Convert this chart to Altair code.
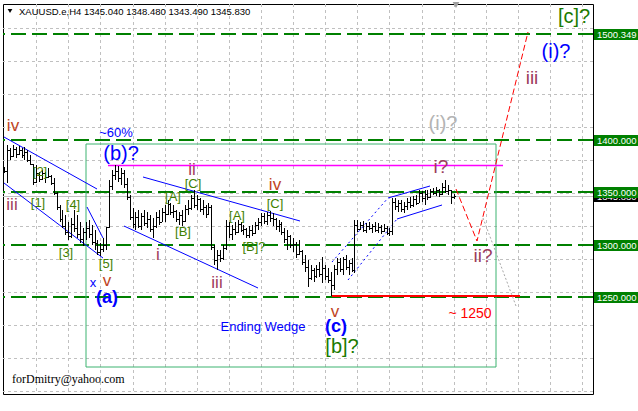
import altair as alt
import pandas as pd

# ---------------- XAUUSD.e, H4 bars ----------------
highs = [1373.9, 1394.8, 1392.0, 1394.8, 1392.9, 1393.9, 1392.0, 1392.9, 1390.1, 1385.3,
         1377.0, 1375.8, 1369.2, 1371.1, 1369.2, 1373.0, 1366.3, 1363.5, 1350.1, 1337.8,
         1333.0, 1328.3, 1321.6, 1325.4, 1333.0, 1328.3, 1321.6, 1315.9, 1321.6, 1323.5,
         1318.8, 1314.0, 1304.5, 1301.7, 1306.4, 1316.9, 1361.6, 1371.1, 1375.8, 1374.9,
         1373.0, 1371.1, 1363.5, 1347.3, 1334.9, 1331.1, 1333.0, 1330.2, 1333.0, 1331.1,
         1328.3, 1325.4, 1331.1, 1333.0, 1334.9, 1337.8, 1342.5, 1339.7, 1337.8, 1333.0,
         1331.1, 1333.0, 1337.8, 1342.5, 1347.3, 1352.1, 1347.3, 1344.4, 1342.5, 1337.8,
         1339.7, 1337.8, 1299.8, 1295.0, 1295.0, 1299.8, 1323.5, 1321.6, 1318.8, 1321.6,
         1323.5, 1321.6, 1318.8, 1315.9, 1317.8, 1318.8, 1321.6, 1325.4, 1330.2, 1330.2,
         1331.1, 1332.1, 1330.2, 1325.4, 1323.5, 1321.6, 1315.9, 1314.0, 1309.3, 1306.4,
         1302.6, 1304.5, 1295.0, 1290.2, 1285.5, 1280.7, 1277.9, 1280.7, 1283.6, 1288.3,
         1280.7, 1277.9, 1274.1, 1280.7, 1287.4, 1287.4, 1288.3, 1290.2, 1285.5, 1287.4,
         1323.5, 1323.5, 1321.6, 1322.6, 1320.7, 1321.6, 1319.7, 1321.6, 1320.7, 1318.8,
         1319.7, 1317.8, 1315.9, 1344.4, 1344.4, 1342.5, 1342.5, 1340.6, 1344.4, 1345.4,
         1346.3, 1347.3, 1352.1, 1351.1, 1352.1, 1352.1, 1353.0, 1354.0, 1354.9, 1353.0,
         1358.7, 1361.6, 1356.8, 1352.1, 1348.48]

lows = [1368.2, 1358.7, 1380.6, 1383.4, 1382.5, 1385.3, 1382.5, 1380.6, 1378.7, 1375.8,
        1356.8, 1358.7, 1359.7, 1361.6, 1358.7, 1363.5, 1356.8, 1347.3, 1333.0, 1321.6,
        1315.9, 1309.3, 1304.5, 1306.4, 1312.1, 1306.4, 1301.7, 1298.8, 1304.5, 1306.4,
        1299.8, 1295.0, 1290.2, 1289.3, 1293.1, 1295.0, 1315.9, 1352.1, 1361.6, 1359.7,
        1356.8, 1354.0, 1342.5, 1323.5, 1315.9, 1314.0, 1315.9, 1314.0, 1317.8, 1315.9,
        1312.1, 1306.4, 1315.9, 1318.8, 1321.6, 1321.6, 1328.3, 1328.3, 1325.4, 1321.6,
        1318.8, 1317.8, 1321.6, 1328.3, 1333.0, 1334.9, 1333.0, 1331.1, 1328.3, 1325.4,
        1328.3, 1295.0, 1280.7, 1276.0, 1283.6, 1285.5, 1295.0, 1306.4, 1304.5, 1309.3,
        1311.2, 1312.1, 1309.3, 1306.4, 1306.4, 1308.3, 1310.2, 1314.0, 1317.8, 1319.7,
        1318.8, 1321.6, 1317.8, 1314.0, 1312.1, 1309.3, 1301.7, 1295.0, 1296.9, 1293.1,
        1287.4, 1290.2, 1280.7, 1274.1, 1259.8, 1266.5, 1264.6, 1268.4, 1269.3, 1263.6,
        1266.5, 1263.6, 1251.2, 1257.0, 1271.2, 1274.1, 1271.2, 1276.0, 1271.2, 1274.1,
        1273.1, 1312.1, 1314.0, 1312.1, 1311.2, 1314.0, 1311.2, 1312.1, 1311.2, 1310.2,
        1312.1, 1309.3, 1308.3, 1309.3, 1333.0, 1331.1, 1331.1, 1330.2, 1333.0, 1334.9,
        1335.9, 1337.8, 1339.7, 1340.6, 1337.8, 1342.5, 1344.4, 1347.3, 1346.3, 1345.4,
        1347.3, 1349.2, 1347.3, 1338.7, 1343.49]

closes = [1370, 1390, 1384, 1391, 1386, 1390, 1385, 1388, 1381, 1376.5,
          1360, 1368, 1362, 1368, 1364, 1365, 1359, 1349, 1336, 1324,
          1318, 1312, 1308, 1320, 1316, 1310, 1305, 1312, 1316, 1310,
          1303, 1302, 1293, 1296, 1300, 1316.5, 1356, 1366, 1370, 1363,
          1368, 1358, 1345, 1326, 1320, 1326, 1318, 1327, 1321, 1324,
          1315, 1318, 1326, 1322, 1331, 1329, 1339, 1331, 1332, 1324,
          1328, 1323, 1334, 1335, 1344, 1338, 1343, 1334, 1336, 1329,
          1336, 1298, 1285, 1290, 1287, 1297, 1318, 1310, 1315, 1312,
          1320, 1314, 1315, 1309, 1314, 1311, 1319, 1322, 1327, 1323,
          1328, 1325, 1324, 1318, 1320, 1312, 1305, 1308, 1300, 1301,
          1291, 1294, 1284, 1279, 1268, 1276, 1270, 1277, 1272, 1278,
          1270, 1266, 1262, 1277, 1284, 1277, 1286, 1279, 1283, 1276,
          1319, 1315, 1319, 1314, 1318, 1316, 1318, 1314, 1317, 1313,
          1316, 1311, 1313, 1341, 1337, 1340, 1334, 1337, 1341, 1338,
          1343, 1340, 1349, 1344, 1348, 1345, 1351, 1349, 1352, 1348,
          1355, 1351, 1352, 1345.04, 1345.83]

# every bar opens where the previous one closed
opens = [closes[0]] + closes[:-1]

# ---------------- axes ----------------
time_labels = ["6 Sep 2013", "13 Sep 13:00", "20 Sep 21:00", "30 Sep 05:00",
               "7 Oct 13:00", "14 Oct 21:00", "22 Oct 05:00", "29 Oct 12:00"]
BARS_PER_LABEL = 22
GRID_STEP = 11
price_ticks = [1161.265, 1192.450, 1223.635, 1254.820, 1286.005, 1318.135,
               1349.320, 1380.505, 1411.690, 1442.875, 1475.005, 1506.190]

# horizontal price levels and the current bid
levels = [1500.349, 1400.000, 1350.000, 1300.000, 1250.000]
bid = closes[-1]

# ---------------- drawn objects (bar index, price) ----------------
trend_lines = [  # x1, p1, x2, p2
    (0.0, 1402.0, 31.7, 1352.7),
    (0.0, 1358.2, 34.0, 1287.1),
    (28.3, 1335.6, 34.0, 1306.1),
    (47.6, 1364.4, 101.4, 1322.5),
    (41.1, 1317.8, 87.0, 1258.8),
    (131.5, 1344.4, 145.9, 1355.8),
    (134.6, 1324.4, 150.0, 1337.7),
]
channel_lines = [
    (112.3, 1283.6, 131.5, 1344.4),
    (117.8, 1266.4, 134.6, 1324.4),
]
forecast_path = [(154.8, 1353.0), (162.0, 1303.5), (179.5, 1502.2)]
alt_path = [(164.0, 1325.4), (175.3, 1241.7)]
b_high_line = (35.6, 170.9, 1375.8)
target_line = (112.3, 176.7, 1251.2)
zone_box = (28.1, 168.5, 1183.7, 1395.8)

# wave labels grouped by how they are drawn
blue_big = [("(b)?", 40.1, 1386.3), ("(i)?", 189.0, 1483.2)]
blue_mid = [("(a)", 35.3, 1249.3), ("(c)", 113.7, 1221.7)]
blue_small = [("~60%", 38.4, 1406.2), ("x", 30.5, 1263.6), ("Ending Wedge", 88.7, 1221.7)]
green_big = [("[b]?", 115.8, 1202.8), ("[c]?", 195.2, 1516.5)]
green_small = [("[1]", 11.6, 1339.7), ("[2]", 12.3, 1369.2), ("[3]", 21.2, 1292.1),
               ("[4]", 23.6, 1337.8), ("[5]", 34.9, 1281.7), ("[A]", 57.9, 1345.4),
               ("[B]", 61.3, 1312.1), ("[C]", 64.7, 1357.7), ("[A]", 79.8, 1327.3),
               ("[B]?", 85.6, 1297.8), ("[C]", 92.8, 1338.7)]
roman_orange = [("iv", 3.1, 1412.9), ("v", 35.3, 1265.5), ("iv", 92.8, 1356.8), ("v", 113.4, 1236.0)]
roman_brown = [("iii", 2.7, 1337.8), ("ii", 64.4, 1371.0), ("i", 52.7, 1290.2),
               ("iii", 72.9, 1263.6)]
roman_forecast = [("i?", 149.7, 1373.9), ("ii?", 164.0, 1289.3), ("iii", 180.8, 1458.5)]
gray_big = [("(i)?", 150.3, 1414.8)]
red_note = [("~ 1250", 159.6, 1234.1)]

symbol = "XAUUSD.e,H4"
signature = "forDmitry@yahoo.com"

# ---------------- build ----------------
FONT = "Liberation Sans"
W, H = 590, 390
xs = alt.Scale(domain=[-0.35, 201.7], nice=False, zero=False, round=True)
ys = alt.Scale(domain=[1158.0, 1528.9], nice=False, zero=False, round=True)


def X(f, **kw):
    return alt.X(f, type="quantitative", scale=xs, axis=None, **kw)


def Y(f, **kw):
    return alt.Y(f, type="quantitative", scale=ys, axis=None, **kw)


bars = pd.DataFrame({"i": range(len(highs)), "high": highs, "low": lows,
                     "open": opens, "close": closes})

label_js = "[" + ",".join("'%s'" % s for s in time_labels) + "]"
x_axis = alt.Axis(values=[k * BARS_PER_LABEL for k in range(len(time_labels))],
                  labelExpr=label_js + "[round(datum.value / %d)]" % BARS_PER_LABEL,
                  grid=False, domain=False, tickSize=4, tickColor="black",
                  labelAlign="left", labelBaseline="top", labelPadding=1,
                  labelFont=FONT, labelFontSize=9.5, labelColor="black",
                  labelOverlap=False, labelFlush=False, title=None)
y_axis = alt.Axis(orient="right", values=price_ticks, format=".3f", grid=False,
                  domain=False, tickSize=3, tickColor="black", labelPadding=2,
                  labelFont=FONT, labelFontSize=9.5, labelColor="black",
                  labelOverlap=False, labelFlush=False, title=None)

# grid
vgrid = pd.DataFrame({"g": list(range(GRID_STEP, 200, GRID_STEP))})
hgrid = pd.DataFrame({"p": price_ticks})
grid_v = alt.Chart(vgrid).mark_rule(color="#c0c0c0", strokeDash=[3, 3], xOffset=0.5).encode(
    x=alt.X("g:Q", scale=xs, axis=x_axis))
grid_h = alt.Chart(hgrid).mark_rule(color="#c0c0c0", strokeDash=[3, 3], yOffset=0.5).encode(
    y=alt.Y("p:Q", scale=ys, axis=y_axis))

lv = pd.DataFrame({"p": levels, "t": ["%.3f" % v for v in levels]})
level_rules = alt.Chart(lv).mark_rule(color="#008000", strokeDash=[15, 6], strokeWidth=2).encode(y=Y("p"))
bid_df = pd.DataFrame({"p": [bid], "t": ["%.3f" % bid]})
bid_rule = alt.Chart(bid_df).mark_rule(color="#c0c0c0", yOffset=0.5).encode(y=Y("p"))

# zone rectangle and straight objects
zb = pd.DataFrame([zone_box], columns=["x1", "x2", "p1", "p2"])
zone = alt.Chart(zb).mark_rect(fill=None, stroke="#3cb371", strokeWidth=1).encode(
    x=X("x1"), x2="x2", y=Y("p1"), y2="p2")

mh = pd.DataFrame([b_high_line], columns=["x1", "x2", "p"])
magenta = alt.Chart(mh).mark_rule(color="#ff00ff", strokeWidth=1.5, yOffset=0.5).encode(
    x=X("x1"), x2="x2", y=Y("p"))
tg = pd.DataFrame([target_line], columns=["x1", "x2", "p"])
target = alt.Chart(tg).mark_rule(color="#ff0000", strokeWidth=2).encode(
    x=X("x1"), x2="x2", y=Y("p"))

tl = pd.DataFrame(trend_lines, columns=["x1", "p1", "x2", "p2"])
trends = alt.Chart(tl).mark_rule(color="#0000ff", strokeWidth=1).encode(
    x=X("x1"), x2="x2", y=Y("p1"), y2="p2")
cl = pd.DataFrame(channel_lines, columns=["x1", "p1", "x2", "p2"])
channels = alt.Chart(cl).mark_rule(color="#0000ff", strokeWidth=1, strokeDash=[2, 3]).encode(
    x=X("x1"), x2="x2", y=Y("p1"), y2="p2")

fp = pd.DataFrame([(k, a, b) for k, (a, b) in enumerate(forecast_path)], columns=["k", "x", "p"])
forecast = alt.Chart(fp).mark_line(color="#ff0000", strokeWidth=1, strokeDash=[6, 3]).encode(
    x=X("x"), y=Y("p"), order="k:Q")
ap = pd.DataFrame([(k, a, b) for k, (a, b) in enumerate(alt_path)], columns=["k", "x", "p"])
alt_line = alt.Chart(ap).mark_line(color="#a8a8a8", strokeWidth=1, strokeDash=[2, 2]).encode(
    x=X("x"), y=Y("p"), order="k:Q")

# OHLC bars
bb = alt.Chart(bars)
hl = bb.mark_rule(color="black", strokeWidth=1, xOffset=0.5).encode(x=X("i"), y=Y("high"), y2="low")
op = bb.mark_rule(color="black", strokeWidth=1, xOffset=-1, x2Offset=0, yOffset=0.5, y2Offset=0.5).encode(
    x=X("i"), x2="i", y=Y("open"), y2="open")
cp = bb.mark_rule(color="black", strokeWidth=1, xOffset=1, x2Offset=2, yOffset=0.5, y2Offset=0.5).encode(
    x=X("i"), x2="i", y=Y("close"), y2="close")


def labels(items, color, size, weight="normal"):
    df = pd.DataFrame(items, columns=["t", "x", "p"])
    return alt.Chart(df).mark_text(font=FONT, fontSize=size, color=color, fontWeight=weight,
                                   align="center", baseline="middle").encode(
        x=X("x"), y=Y("p"), text="t:N")


texts = [
    labels(blue_big, "#0000ff", 20),
    labels(blue_mid, "#0000ff", 18, "bold"),
    labels(blue_small, "#0000ff", 13),
    labels(green_big, "#1a7a00", 20),
    labels(green_small, "#3f7f00", 13),
    labels(roman_orange, "#c0441e", 17),
    labels(roman_brown, "#a0385a", 17),
    labels(roman_forecast, "#9c3c5c", 19),
    labels(gray_big, "#b4b4b4", 20),
    labels(red_note, "#ff0000", 14),
]

# price boxes in the right scale
bid_box = alt.Chart(bid_df).mark_rect(color="black", yOffset=-5, y2Offset=6).encode(
    x=alt.value(591), x2=alt.value(635), y=Y("p"), y2="p")
bid_txt = alt.Chart(bid_df).mark_text(font=FONT, fontSize=9.5, color="white", align="left",
                                      baseline="middle", dy=0.5).encode(
    x=alt.value(594), y=Y("p"), text="t:N")
lv_box = alt.Chart(lv).mark_rect(color="#008000", yOffset=-5, y2Offset=6).encode(
    x=alt.value(591), x2=alt.value(635), y=Y("p"), y2="p")
lv_txt = alt.Chart(lv).mark_text(font=FONT, fontSize=9.5, color="white", align="left",
                                 baseline="middle", dy=0.5).encode(
    x=alt.value(594), y=Y("p"), text="t:N")

# header and signature
hdr = pd.DataFrame({"t": ["%s  %.3f %.3f %.3f %.3f" % (symbol, opens[-1], highs[-1], lows[-1], closes[-1])]})
header = alt.Chart(hdr).mark_text(font=FONT, fontSize=9.5, color="black", align="left",
                                  baseline="middle").encode(
    x=alt.value(16), y=alt.value(8), text="t:N")
arrow = alt.Chart(hdr).mark_point(shape="triangle-down", filled=True, color="black", size=22, opacity=1).encode(
    x=alt.value(7), y=alt.value(7))
shift = alt.Chart(hdr).mark_point(shape="triangle-down", filled=True, color="#a0a0a0", size=45, opacity=1).encode(
    x=alt.value(453), y=alt.value(1))
sig = pd.DataFrame({"t": [signature]})
signature_txt = alt.Chart(sig).mark_text(font="Liberation Serif", fontSize=12, color="black",
                                         align="left", baseline="middle").encode(
    x=alt.value(9), y=alt.value(375), text="t:N")

chart = alt.layer(
    grid_v, grid_h, bid_rule, level_rules, zone, magenta, target, trends, channels,
    alt_line, forecast, hl, op, cp, *texts, bid_box, bid_txt, lv_box, lv_txt,
    header, arrow, shift, signature_txt,
).properties(
    width=W, height=H,
    padding={"left": 3, "top": 4, "right": 45, "bottom": 17},
    autosize=alt.AutoSizeParams(type="none"),
    background="white",
).configure_view(stroke="black", strokeWidth=1)

chart.save("out.html", embed_options={"renderer": "svg", "actions": False})
